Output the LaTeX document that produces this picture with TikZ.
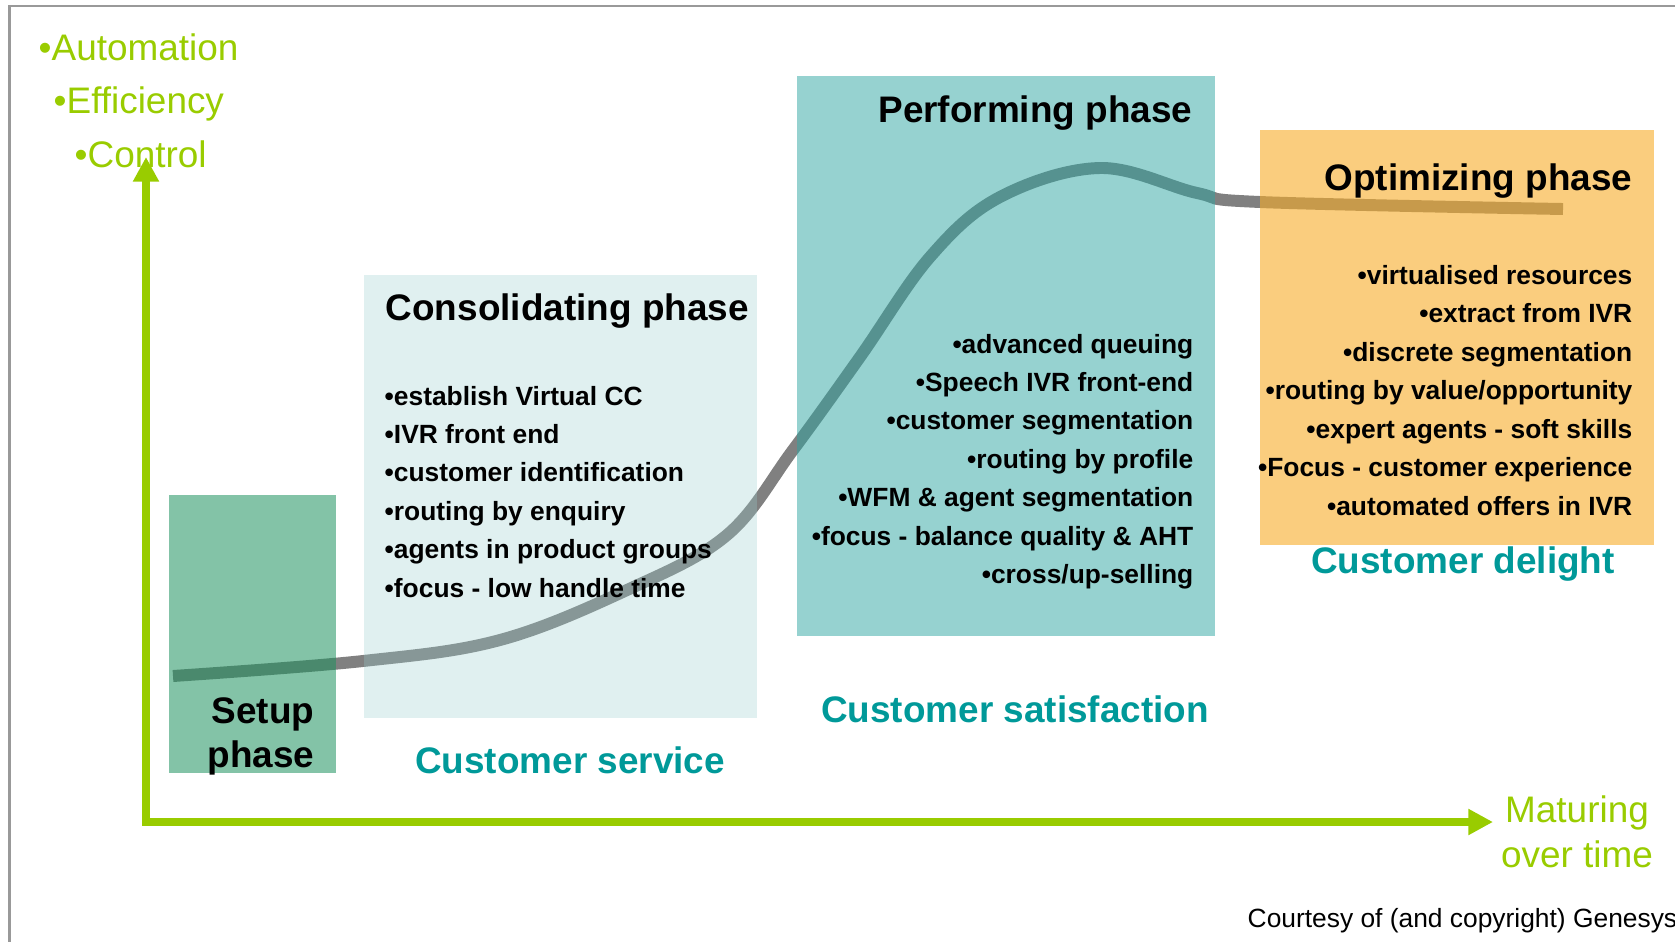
\documentclass[tikz,border=0pt]{standalone}
\usepackage{fontspec}
\setmainfont{Liberation Sans}
\usetikzlibrary{arrows.meta}

\definecolor{lime}{RGB}{153,204,0}
\definecolor{sea}{RGB}{0,153,153}
\definecolor{setupc}{RGB}{30,145,95}
\definecolor{consc}{RGB}{152,205,205}
\definecolor{perfc}{RGB}{45,165,161}
\definecolor{optc}{RGB}{247,172,40}

\begin{document}
\begin{tikzpicture}[x=0.01cm,y=-0.01cm,
		big/.style={inner sep=0,font=\bfseries\fontsize{10.5}{12}\selectfont},
		item/.style={inner sep=0,font=\bfseries\fontsize{7.5}{9}\selectfont},
		goal/.style={big,text=sea},
		axis/.style={draw=lime,line width=2.3pt,{Triangle[length=7pt,width=7pt]}-{Triangle[length=7pt,width=7pt]}},
		green/.style={inner sep=0,text=lime,font=\fontsize{10.5}{12}\selectfont}]
		\useasboundingbox (0,0) rectangle (1675,942);
		\clip (0,0) rectangle (1675,942);
		\draw[gray!80,line width=0.6pt] (9.5,942) -- (9.5,6) -- (1675,6);
		
		% maturity curve, under the phase boxes
		\draw[gray,line width=3.4pt] plot[smooth,tension=0.6] coordinates {(173,676) (363,661) (500,640) (627,590) (727,535) (793,450) (860,357) (930,257) (1000,197) (1100,168) (1197,193) (1260,202) (1563,209)};
		
		\fill[setupc,fill opacity=.55] (169,495) rectangle (336,773);
		\fill[consc,fill opacity=.3] (364,275) rectangle (757,718);
		\fill[perfc,fill opacity=.5] (797,76) rectangle (1215,636);
		\fill[optc,fill opacity=.6] (1260,130) rectangle (1654,545);
		
		\node[green,anchor=base west] (auto) at (38,60) {•Automation};
		\node[green,anchor=base west] (eff) at (53,113) {•Efficiency};
		\node[green,anchor=base west] (ctrl) at (74,167) {•Control};
		
		\node[big,anchor=base east] (setup1) at (315,723) {Setup};
		\node[big,anchor=base east] (setup2) at (315,767) {phase};
		\node[big,anchor=base west] (cons) at (385,320) {Consolidating phase};
		\node[big,anchor=base east] (perf) at (1193,122) {Performing phase};
		\node[big,anchor=base east] (opt) at (1633,190) {Optimizing phase};
		
		\foreach \t [count=\i] in {•establish Virtual CC,•IVR front end,•customer identification,•routing by enquiry,•agents in product groups,•focus - low handle time}
			\node[item,anchor=base west] (cons-\i) at (384,{405+38.4*(\i-1)}) {\t};
		\foreach \t [count=\i] in {•advanced queuing,•Speech IVR front-end,•customer segmentation,•routing by profile,•WFM \& agent segmentation,•focus - balance quality \& AHT,•cross/up-selling}
			\node[item,anchor=base east] (perf-\i) at (1194,{353+38.4*(\i-1)}) {\t};
		\foreach \t [count=\i] in {•virtualised resources,•extract from IVR,•discrete segmentation,•routing by value/opportunity,•expert agents - soft skills,•Focus - customer experience,•automated offers in IVR}
			\node[item,anchor=base east] (opt-\i) at (1633,{284+38.5*(\i-1)}) {\t};
		
		\node[goal,anchor=base] (serv) at (570,773) {Customer service};
		\node[goal,anchor=base] (sat) at (1015,722) {Customer satisfaction};
		\node[goal,anchor=base] (del) at (1463,573) {Customer delight};
		
		\node[green,anchor=base] (mat1) at (1577,822) {Maturing};
		\node[green,anchor=base] (mat2) at (1577,867) {over time};
		\node[inner sep=0,anchor=base west,font=\fontsize{7.5}{9}\selectfont] (court) at (1247,927) {Courtesy of (and copyright) Genesys};
		
		\coordinate (o) at (146,822);
		\coordinate (ytip) at (146,157);
		\coordinate (xtip) at (1493,822);
		\draw[axis] (ytip) -- (o) -- (xtip);
\end{tikzpicture}
\end{document}
